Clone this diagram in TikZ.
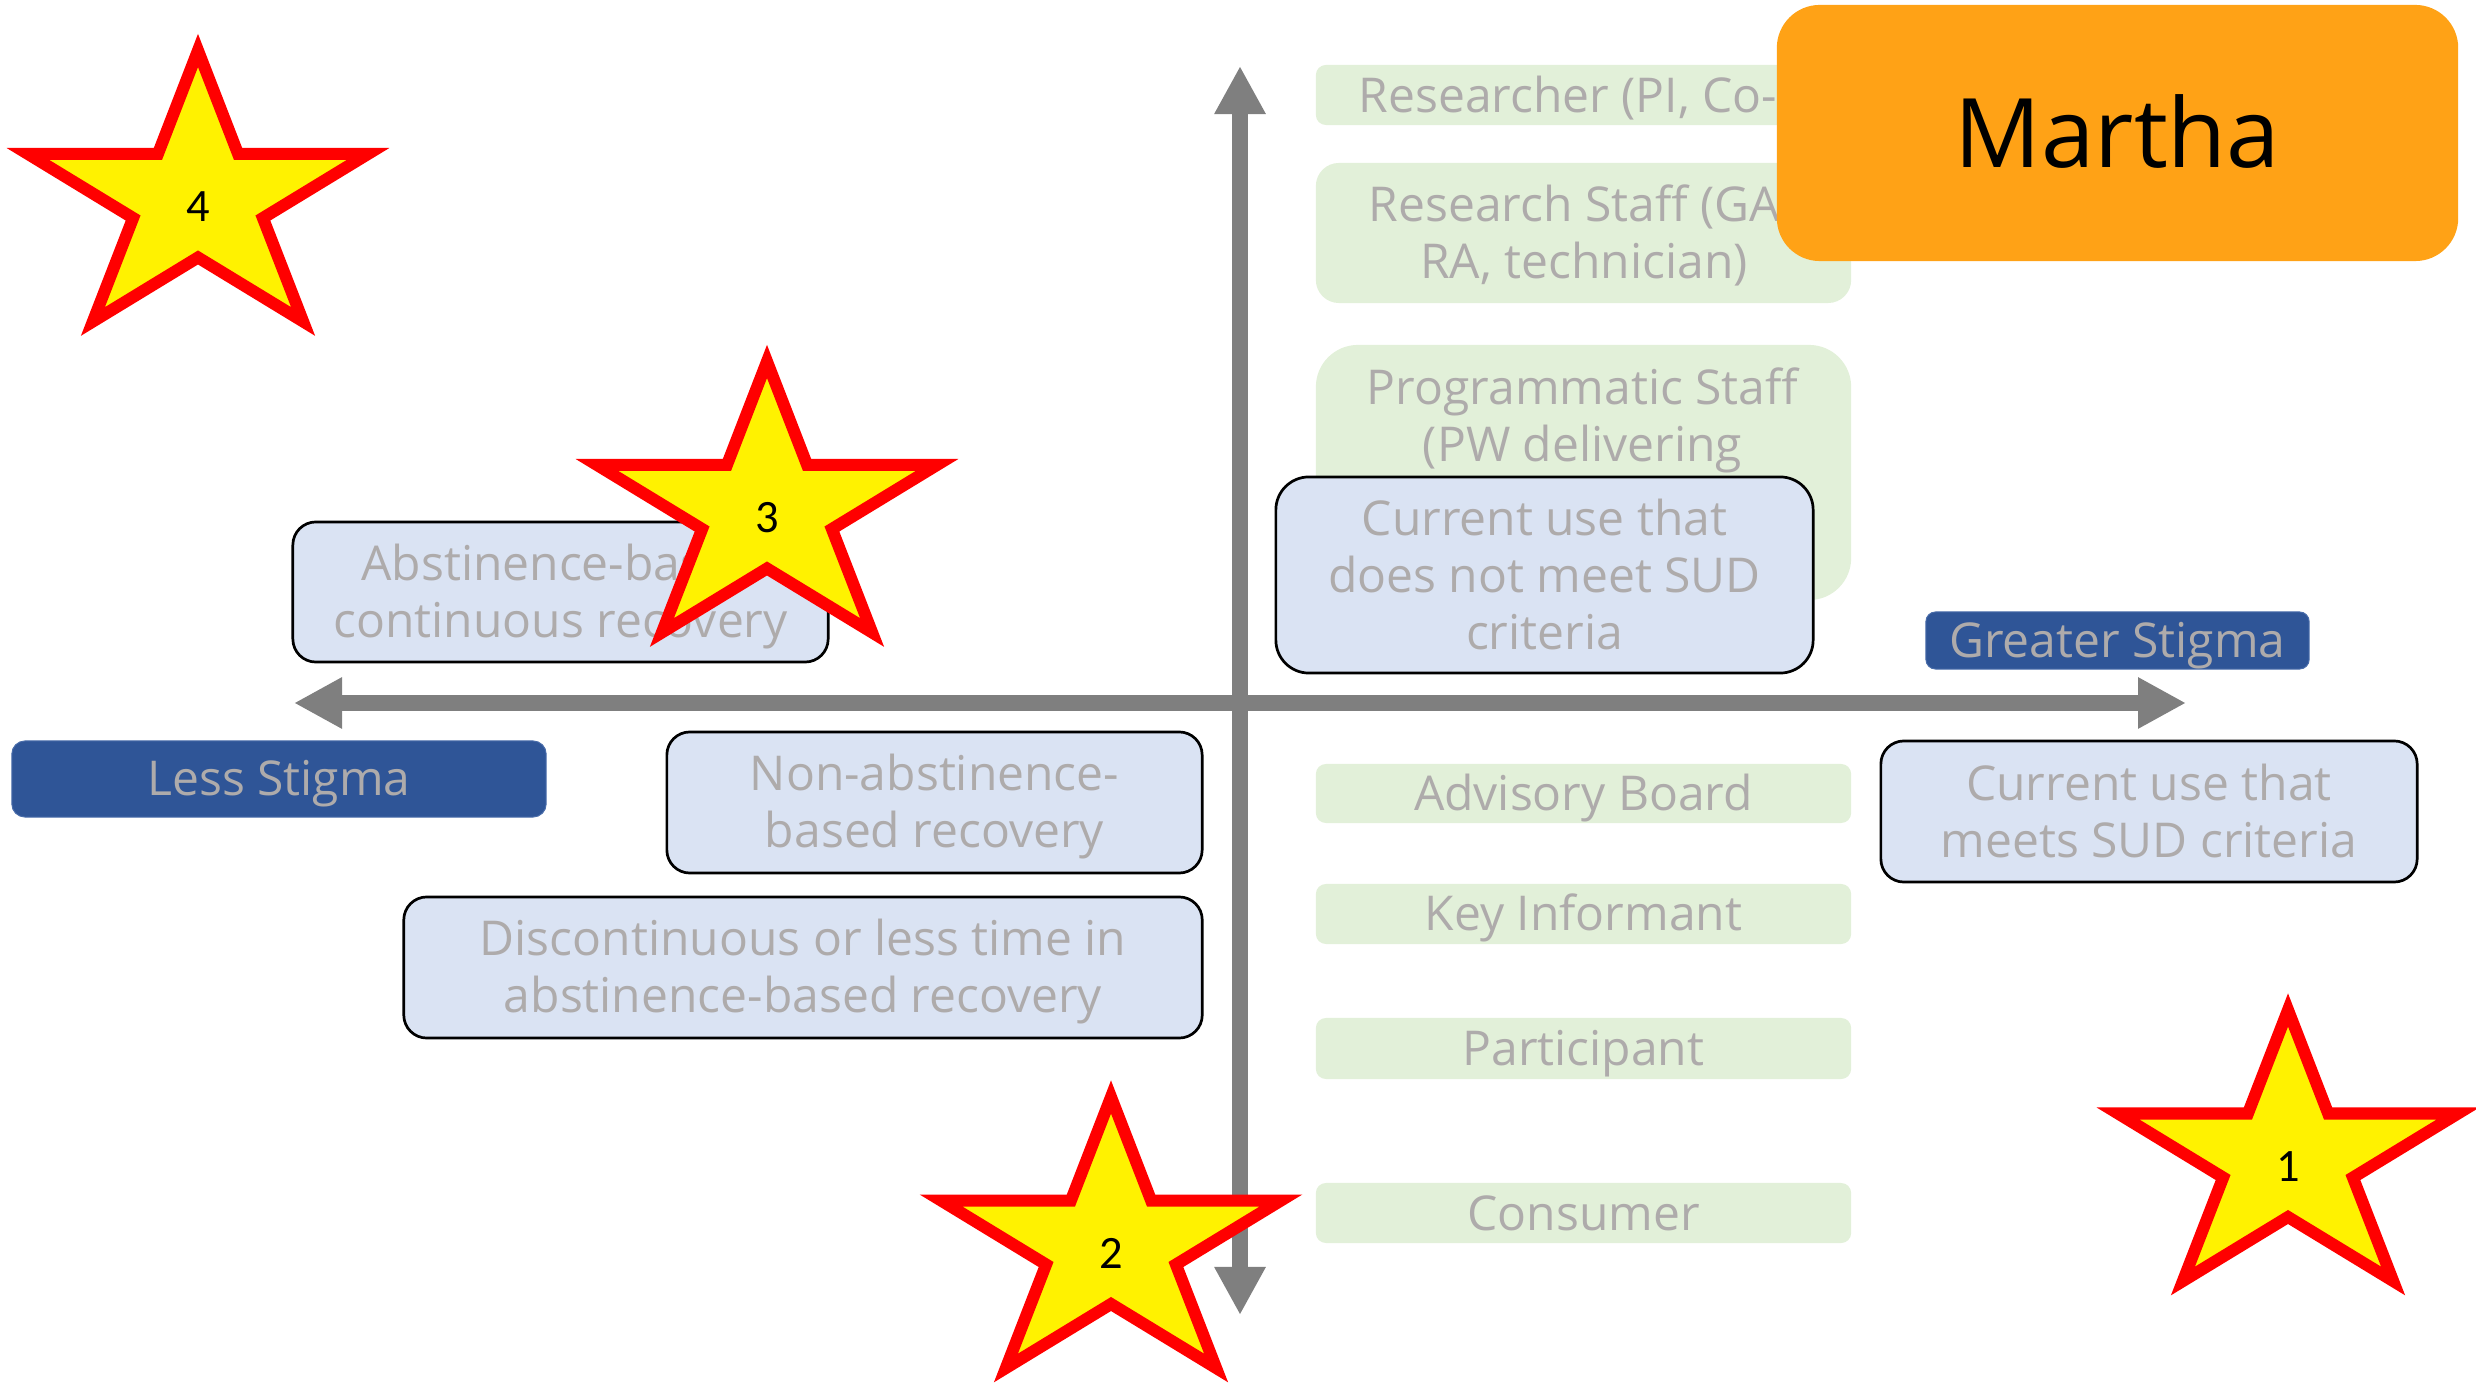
\documentclass[tikz,border=0pt]{standalone}
\usepackage{fontspec}
\setmainfont{Open Sans}
\newfontfamily\numfont{Carlito}
\usetikzlibrary{arrows.meta}
\definecolor{gfill}{HTML}{E2F0D9}
\definecolor{bfill}{HTML}{DAE3F3}
\definecolor{dblue}{HTML}{2F5597}
\definecolor{dblueedge}{HTML}{4A6DAA}
\definecolor{txtg}{HTML}{AEABAB}
\definecolor{orng}{HTML}{FFA216}
\definecolor{axisg}{HTML}{7F7F7F}
\newcommand\bodyfs{\fontsize{13.65pt}{16.2pt}\selectfont}
\newcommand\numfs{\fontsize{13.2pt}{16.2pt}\selectfont}
\newcommand\bigfs{\fontsize{27.3pt}{32pt}\selectfont}
\newcommand\tstrut{\rule[-3pt]{0pt}{15.8pt}}
\newcommand\mstrut{\rule[-6pt]{0pt}{31.5pt}}
\newcommand\nstrut{\rule[-2pt]{0pt}{12.4pt}}
\begin{document}
\begin{tikzpicture}[x=0.01cm,y=-0.01cm,
  greenbox/.style={fill=gfill, draw=none, inner sep=0pt, text=txtg, align=center, font=\bodyfs},
  bluebox/.style={fill=bfill, draw=black, line width=0.027cm, inner sep=0pt, text=txtg, align=center, font=\bodyfs},
  stigbox/.style={fill=dblue, draw=dblueedge, line width=0.01cm, inner sep=0pt, text=txtg, font=\bodyfs},
  lbl/.style={inner sep=0pt, text=txtg, font=\bodyfs},
  axisline/.style={draw=axisg, line width=0.16cm, {Triangle[length=0.48cm,width=0.48cm]}-{Triangle[length=0.48cm,width=0.48cm]}},
  starshape/.style={fill=yellow, draw=red, line width=0.12cm, line join=miter},
  starnum/.style={inner sep=0pt, font=\numfont\numfs, text=black},
  pics/bigstar/.style={code={
    \draw[starshape] (0,103.5) -- (129.9,103.5) -- (170,0) -- (210.1,103.5) -- (340,103.5) -- (234.9,167.5) -- (275.1,271) -- (170,207) -- (64.9,271) -- (105.1,167.5) -- cycle;
    \node[starnum] (-num) at (170,156.5) {\nstrut#1};
  }}
]
\useasboundingbox (0,0) rectangle (2476,1383);

% green role boxes
\node[greenbox, minimum width=5.35cm, minimum height=0.60cm, rounded corners=0.10cm] (researcher) at (1583.5,95) {};
\node[lbl, anchor=west] (researchertxt) at (1358,95) {\tstrut Researcher (PI, Co-};
\node[greenbox, minimum width=5.35cm, minimum height=1.40cm, rounded corners=0.23cm] (staff) at (1583.5,233) {};
\node[lbl, anchor=west] (stafftxta) at (1368,204) {\tstrut Research Staff (GA};
\node[lbl] (stafftxtb) at (1584,261) {\tstrut RA, technician)};
\node[greenbox, minimum width=5.35cm, minimum height=2.55cm, rounded corners=0.42cm] (prog) at (1583.5,472.5) {};
\node[lbl, align=center] (progtxt) at (1582.5,416) {\tstrut Programmatic Staff\\(PW delivering\tstrut};
\node[greenbox, minimum width=5.35cm, minimum height=0.59cm, rounded corners=0.10cm] (advisory) at (1583.5,793.5) {\tstrut Advisory Board};
\node[greenbox, minimum width=5.35cm, minimum height=0.60cm, rounded corners=0.10cm] (keyinf) at (1583.5,914) {\tstrut Key Informant};
\node[greenbox, minimum width=5.35cm, minimum height=0.61cm, rounded corners=0.10cm] (particip) at (1583.5,1048.5) {\tstrut Participant};
\node[greenbox, minimum width=5.35cm, minimum height=0.60cm, rounded corners=0.10cm] (consumer) at (1583.5,1213) {\tstrut Consumer};

% Martha
\node[fill=orng, draw=none, inner sep=0pt, minimum width=6.81cm, minimum height=2.56cm, rounded corners=0.43cm, font=\bigfs, text=black] (martha) at (2117.5,133) {\mstrut Martha};

% blue recovery / use boxes
\node[bluebox, minimum width=5.37cm, minimum height=1.96cm, rounded corners=0.33cm] (curnot) at (1544.5,575) {\tstrut Current use that\\does not meet SUD\\criteria\tstrut};
\node[bluebox, minimum width=5.36cm, minimum height=1.41cm, rounded corners=0.23cm] (curmeets) at (2149,811.5) {\tstrut Current use that\\meets SUD criteria\tstrut};
\node[bluebox, minimum width=5.35cm, minimum height=1.40cm, rounded corners=0.23cm] (abst) at (560.5,592) {\tstrut Abstinence-based\\continuous recovery\tstrut};
\node[bluebox, minimum width=5.35cm, minimum height=1.41cm, rounded corners=0.23cm] (nonabst) at (934.5,802.5) {\tstrut Non-abstinence-\\based recovery\tstrut};
\node[bluebox, minimum width=7.98cm, minimum height=1.41cm, rounded corners=0.23cm] (discont) at (803,967.5) {\tstrut Discontinuous or less time in\\abstinence-based recovery\tstrut};

% stigma labels
\node[stigbox, minimum width=5.34cm, minimum height=0.76cm, rounded corners=0.13cm] (less) at (279,779) {\tstrut Less Stigma};
\node[stigbox, minimum width=3.83cm, minimum height=0.57cm, rounded corners=0.095cm] (greater) at (2117.5,640.5) {\tstrut Greater Stigma};

% axes
\coordinate (xl) at (294,703);
\coordinate (xr) at (2186,703);
\coordinate (yt) at (1240,66);
\coordinate (yb) at (1240,1315);
\draw[axisline] (xl) -- (xr);
\draw[axisline] (yt) -- (yb);

% stars
\pic (s4) at (28,50.5) {bigstar=4};
\pic (s3) at (597,361.5) {bigstar=3};
\pic (s2) at (941,1097) {bigstar=2};
\pic (s1) at (2118,1010) {bigstar=1};
\end{tikzpicture}
\end{document}
